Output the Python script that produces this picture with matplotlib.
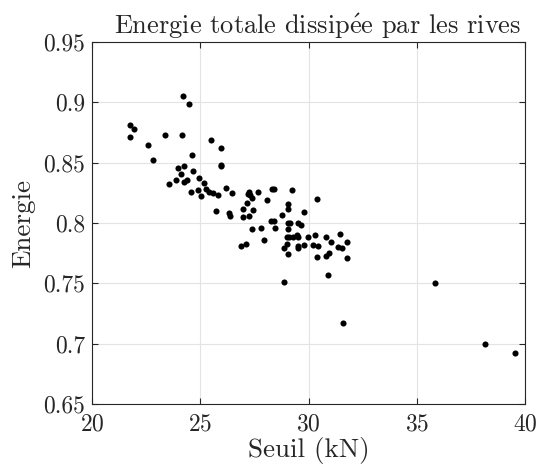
import matplotlib
matplotlib.use("Agg")
import matplotlib.pyplot as plt

plt.rcParams['font.family'] = 'serif'
plt.rcParams['font.serif'] = ['cmr10']
plt.rcParams['mathtext.fontset'] = 'cm'
plt.rcParams['axes.formatter.use_mathtext'] = True

# seuil (kN) et energie
seuil = [21.77, 21.93, 21.74, 22.59, 22.80, 23.39, 24.16, 24.19, 24.49, 24.60,
         23.99, 24.26, 24.11, 24.67, 23.54, 23.89, 24.26, 24.39, 24.59, 24.93,
         25.16, 24.91, 25.03, 25.27, 25.42, 25.58, 25.81, 25.51, 25.94, 25.94,
         25.97, 26.17, 26.45, 25.71, 26.31, 26.36, 26.99, 26.96, 27.16, 27.24,
         27.22, 27.30, 27.39, 27.42, 27.27, 27.67, 28.08, 28.30, 28.42, 29.25,
         28.27, 28.42, 28.76, 29.07, 29.04, 29.78, 29.04, 29.16, 29.50, 29.65,
         30.41, 28.44, 27.39, 27.79, 29.01, 29.11, 29.27, 29.45, 29.50, 28.88,
         29.01, 29.50, 29.53, 29.81, 29.99, 30.19, 30.29, 30.42, 30.81, 31.03,
         31.47, 31.76, 31.35, 31.53, 30.41, 30.81, 30.93, 31.78, 29.07, 27.96,
         26.88, 27.11, 30.89, 28.88, 31.61, 35.84, 38.17, 39.54, 29.07]
energie = [0.881, 0.878, 0.871, 0.865, 0.852, 0.873, 0.873, 0.905, 0.899, 0.856,
           0.846, 0.847, 0.841, 0.843, 0.832, 0.836, 0.834, 0.836, 0.826, 0.837,
           0.833, 0.827, 0.822, 0.828, 0.826, 0.825, 0.823, 0.869, 0.862, 0.848,
           0.847, 0.829, 0.825, 0.810, 0.808, 0.806, 0.812, 0.805, 0.817, 0.826,
           0.824, 0.823, 0.821, 0.811, 0.806, 0.826, 0.819, 0.828, 0.828, 0.827,
           0.802, 0.802, 0.807, 0.816, 0.812, 0.809, 0.800, 0.800, 0.800, 0.798,
           0.820, 0.796, 0.795, 0.796, 0.788, 0.788, 0.788, 0.790, 0.788, 0.779,
           0.783, 0.781, 0.779, 0.782, 0.788, 0.782, 0.790, 0.781, 0.788, 0.784,
           0.791, 0.784, 0.780, 0.779, 0.772, 0.773, 0.775, 0.771, 0.774, 0.786,
           0.781, 0.783, 0.757, 0.751, 0.717, 0.750, 0.700, 0.692, 0.795]

fig = plt.figure(figsize=(5.38, 4.68), dpi=100)
ax = fig.add_axes([0.171, 0.137, 0.805, 0.773])

ax.plot(seuil, energie, 'o', color='k', ms=4.4, mew=0)

ax.set_xlim(20, 40)
ax.set_ylim(0.65, 0.95)
ax.set_xticks([20, 25, 30, 35, 40])
ax.set_yticks([0.65, 0.7, 0.75, 0.8, 0.85, 0.9, 0.95])
ax.set_yticklabels(['0.65', '0.7', '0.75', '0.8', '0.85', '0.9', '0.95'])
ax.grid(True, color='#e3e3e3', lw=0.8)
ax.set_axisbelow(True)
for s in ax.spines.values():
    s.set_color('#262626')
    s.set_linewidth(0.8)
ax.tick_params(direction='in', top=True, right=True, length=4, width=0.8,
               color='#262626', labelcolor='#262626', labelsize=17)
ax.tick_params(axis='x', pad=7)
ax.tick_params(axis='y', pad=5)

ax.set_title(r'Energie totale dissip$\acute{\mathrm{e}}$e par les rives',
             fontsize=19, color='#262626', pad=6, x=0.52)
ax.set_xlabel('Seuil (kN)', fontsize=19.5, color='#262626', labelpad=1)
ax.set_ylabel('Energie', fontsize=19.5, color='#262626', labelpad=6)

fig.savefig('out.png', dpi=100)
